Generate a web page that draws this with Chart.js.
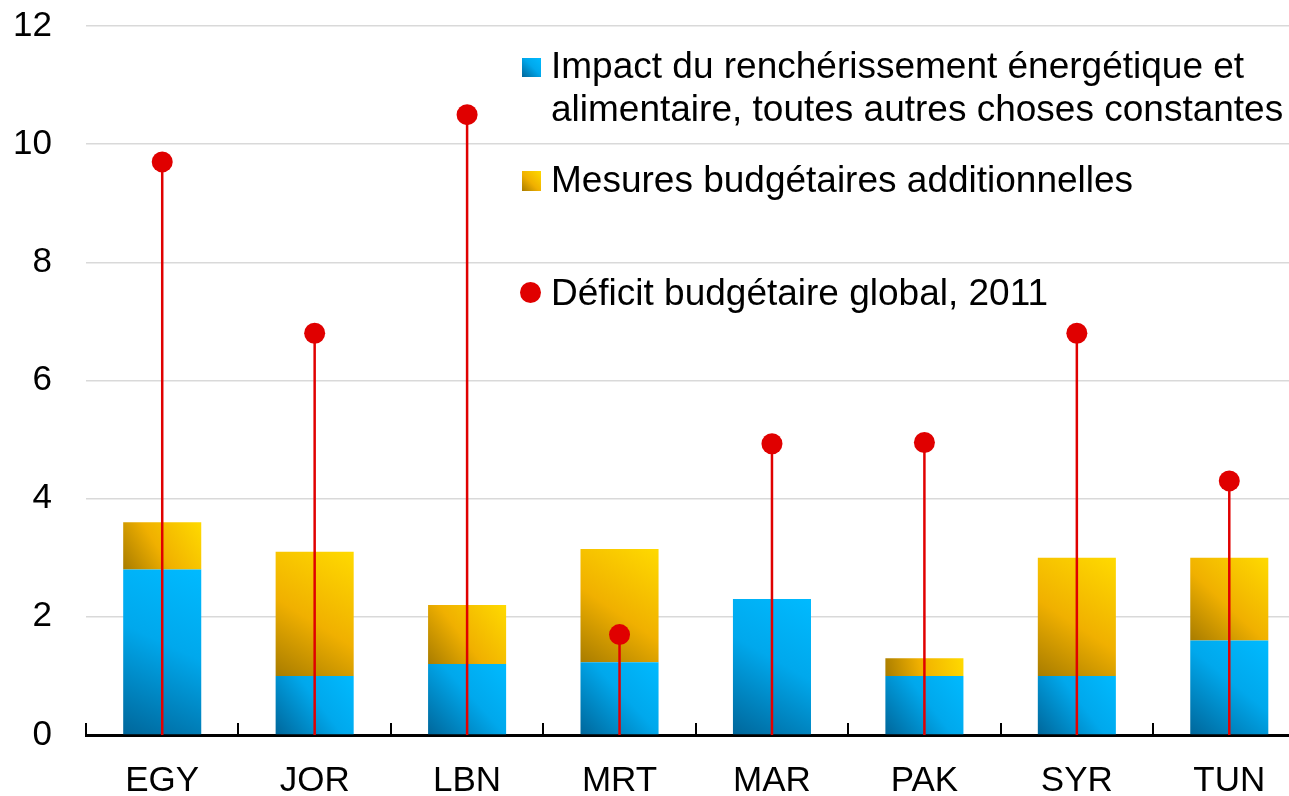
<!DOCTYPE html>
<html lang="fr">
<head>
  <meta charset="UTF-8">
  <title>Déficit budgétaire et mesures</title>
  <script src="https://cdn.jsdelivr.net/npm/chart.js"></script>
  <style>
    body {
      margin: 0;
      background: #fff;
      overflow: hidden;
      font-family: "Liberation Sans", Arial, sans-serif;
    }
    .wrap {
      position: relative;
      width: 1316px;
      height: 796px;
    }
    .legend {
      position: absolute;
      font-size: 37px;
      line-height: 43px;
      color: #000;
      white-space: nowrap;
    }
    .mark {
      position: absolute;
    }
  </style>
</head>
<body>

  <div class="wrap">
    <canvas id="deficitChart"></canvas>

    <!-- legend -->
    <div class="mark" style="left:522px; top:58px; width:19px; height:19px; background:linear-gradient(45deg,#00669a,#00a8ec 55%,#00baff);"></div>
    <div class="legend" style="left:551px; top:44px;">Impact du renchérissement énergétique et<br>alimentaire, toutes autres choses constantes</div>

    <div class="mark" style="left:522px; top:171px; width:19px; height:20px; background:linear-gradient(45deg,#a87c00,#f0b000 45%,#ffda00);"></div>
    <div class="legend" style="left:551px; top:158px;">Mesures budgétaires additionnelles</div>

    <div class="mark" style="left:520px; top:282px; width:21px; height:21px; border-radius:50%; background:#e00000;"></div>
    <div class="legend" style="left:551px; top:271px;">Déficit budgétaire global, 2011</div>
  </div>

  <script>
    // values (% of GDP)
    const countries = ['EGY', 'JOR', 'LBN', 'MRT', 'MAR', 'PAK', 'SYR', 'TUN'];
    const impact   = [2.8, 1.0, 1.2, 1.23, 2.3, 1.0, 1.0, 1.6];
    const mesures  = [0.8, 2.1, 1.0, 1.92, 0, 0.3, 2.0, 1.4];
    const deficit  = [9.7, 6.8, 10.5, 1.7, 4.93, 4.95, 6.8, 4.3];
    const yTicks   = [0, 2, 4, 6, 8, 10, 12];

    const blueStops   = ['#00669a', '#00a8ec', '#00baff'];
    const orangeStops = ['#a87c00', '#f0b000', '#ffda00'];
    const CAT_PCT = 0.512;

    // diagonal gradient per bar segment (bottom-left dark -> top-right bright)
    function segGradient(ctx, stops, lowVals, highVals) {
      const chart = ctx.chart;
      const xs = chart.scales.x, ys = chart.scales.y;
      if (!xs || !ys || !chart.chartArea) return stops[1];
      const i = ctx.dataIndex;
      const step = xs.getPixelForValue(1) - xs.getPixelForValue(0);
      const w = step * CAT_PCT;
      const cx = xs.getPixelForValue(i);
      const lo = lowVals ? lowVals[i] : 0;
      const y0 = ys.getPixelForValue(lo);
      const y1 = ys.getPixelForValue(lo + highVals[i]);
      const g = chart.ctx.createLinearGradient(cx - w / 2, y0, cx + w / 2, y1);
      g.addColorStop(0, stops[0]);
      g.addColorStop(stops === blueStops ? 0.55 : 0.45, stops[1]);
      g.addColorStop(1, stops[2]);
      return g;
    }

    // red stems from 0 up to each deficit dot, drawn just before the dots
    const stemPlugin = {
      id: 'stems',
      beforeDatasetDraw(chart, args) {
        if (args.index !== 2) return;
        const c = chart.ctx;
        const base = chart.scales.y.getPixelForValue(0);
        c.save();
        c.strokeStyle = '#e00000';
        c.lineWidth = 2.5;
        args.meta.data.forEach(pt => {
          c.beginPath();
          c.moveTo(pt.x, base);
          c.lineTo(pt.x, pt.y);
          c.stroke();
        });
        c.restore();
      }
    };

    // small upward ticks between categories on the x axis
    const sepTicks = {
      id: 'sepTicks',
      afterDraw(chart) {
        const xs = chart.scales.x;
        const c = chart.ctx;
        const step = xs.getPixelForValue(1) - xs.getPixelForValue(0);
        const bottom = chart.chartArea.bottom;
        c.save();
        c.strokeStyle = '#000';
        c.lineWidth = 2;
        for (let i = 0; i <= countries.length; i++) {
          const px = Math.round(xs.getPixelForValue(0) - step / 2 + i * step);
          c.beginPath();
          c.moveTo(px, bottom - 12);
          c.lineTo(px, bottom);
          c.stroke();
        }
        c.restore();
      }
    };

    const axisFont = { family: '"Liberation Sans", Arial, sans-serif', size: 35 };

    const ctx = document.getElementById('deficitChart').getContext('2d');
    const chart = new Chart(ctx, {
      data: {
        labels: countries,
        datasets: [
          {
            type: 'bar',
            label: 'Impact du renchérissement énergétique et alimentaire, toutes autres choses constantes',
            data: impact,
            backgroundColor: c => segGradient(c, blueStops, null, impact),
            borderWidth: 0,
            barPercentage: 1,
            categoryPercentage: CAT_PCT,
            stack: 's',
            order: 2
          },
          {
            type: 'bar',
            label: 'Mesures budgétaires additionnelles',
            data: mesures,
            backgroundColor: c => segGradient(c, orangeStops, impact, mesures),
            borderWidth: 0,
            barPercentage: 1,
            categoryPercentage: CAT_PCT,
            stack: 's',
            order: 2
          },
          {
            type: 'line',
            label: 'Déficit budgétaire global, 2011',
            data: deficit,
            showLine: false,
            pointRadius: 10.5,
            pointHoverRadius: 10.5,
            pointBackgroundColor: '#e00000',
            pointBorderWidth: 0,
            order: 1
          }
        ]
      },
      options: {
        responsive: true,
        maintainAspectRatio: false,
        animation: false,
        layout: { padding: 0 },
        plugins: {
          legend: { display: false },
          tooltip: { enabled: false }
        },
        scales: {
          x: {
            stacked: true,
            afterFit: s => { s.height = 61; },
            grid: { display: true, drawOnChartArea: false, drawTicks: false },
            border: { display: true, color: '#000', width: 3 },
            ticks: { color: '#000', padding: 25, font: axisFont }
          },
          y: {
            stacked: true,
            min: 0,
            max: 12,
            afterBuildTicks: s => { s.ticks = yTicks.map(v => ({ value: v })); },
            afterFit: s => { s.width = 86; s.paddingTop = 26; s.paddingBottom = 0; },
            grid: { color: '#d9d9d9', lineWidth: 1.5, drawTicks: false },
            border: { display: false },
            ticks: { color: '#000', padding: 34, font: axisFont }
          }
        }
      },
      plugins: [stemPlugin, sepTicks]
    });
  </script>

</body>
</html>
